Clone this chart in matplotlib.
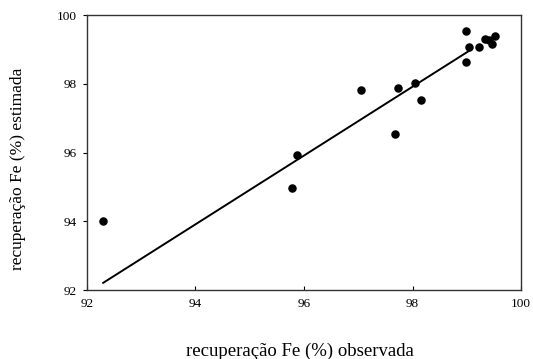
import matplotlib
matplotlib.use("Agg")
import matplotlib.pyplot as plt

# valores
observada = [92.30, 95.78, 95.87, 97.05, 97.68, 97.73, 98.05, 98.15,
             98.99, 98.99, 99.04, 99.22, 99.34, 99.40, 99.46, 99.51]
estimada = [94.00, 94.96, 95.92, 97.81, 96.53, 97.88, 98.01, 97.54,
            99.54, 98.63, 99.06, 99.06, 99.31, 99.27, 99.17, 99.40]

# reta de ajuste
reta_x = [92.30, 99.05]
reta_y = [92.21, 98.97]

ticks = [92, 94, 96, 98, 100]

plt.rcParams["font.family"] = ["Liberation Serif", "DejaVu Serif"]

fig = plt.figure(figsize=(5.33, 3.59), dpi=100)
ax = fig.add_axes([0.163, 0.192, 0.815, 0.766])

ax.plot(reta_x, reta_y, color="black", linewidth=1.4)
ax.scatter(observada, estimada, s=26, color="black", zorder=3)

ax.set_xlim(92, 100)
ax.set_ylim(92, 100)
ax.set_xticks(ticks)
ax.set_yticks(ticks)
ax.tick_params(axis="x", direction="in", length=3, labelsize=9.5, pad=6)
ax.tick_params(axis="y", direction="out", length=3, labelsize=9.5, pad=4)
for s in ax.spines.values():
    s.set_linewidth(1.0)
    s.set_color("#333333")

ax.set_xlabel("recuperação Fe (%) observada", fontsize=13.5)
ax.set_ylabel("recuperação Fe (%) estimada", fontsize=12.5)
ax.xaxis.set_label_coords(0.49, -0.19)
ax.yaxis.set_label_coords(-0.14, 0.44)

fig.savefig("out.png", dpi=100)
